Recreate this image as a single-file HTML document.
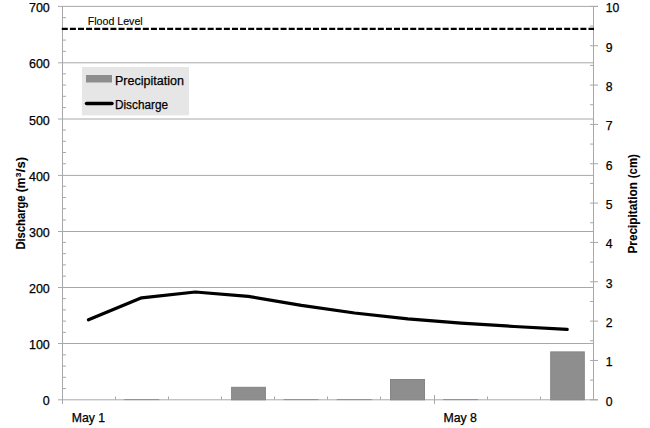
<!DOCTYPE html><html><head><meta charset="utf-8"><style>html,body{margin:0;padding:0;background:#fff;width:650px;height:428px;overflow:hidden}svg{display:block}text{font-family:"Liberation Sans",sans-serif;fill:#000}.t{stroke:#000;stroke-width:0.25}.f{stroke:#000;stroke-width:0.12}</style></head><body>
<svg width="650" height="428" viewBox="0 0 650 428">
<line x1="58" y1="399.8" x2="598" y2="399.8" stroke="#a8a8a8" stroke-width="1"/>
<line x1="58" y1="343.5" x2="593" y2="343.5" stroke="#a8a8a8" stroke-width="1"/>
<line x1="58" y1="287.5" x2="593" y2="287.5" stroke="#a8a8a8" stroke-width="1"/>
<line x1="58" y1="231.5" x2="593" y2="231.5" stroke="#a8a8a8" stroke-width="1"/>
<line x1="58" y1="175.4" x2="593" y2="175.4" stroke="#a8a8a8" stroke-width="1"/>
<line x1="58" y1="119.0" x2="593" y2="119.0" stroke="#a8a8a8" stroke-width="1"/>
<line x1="58" y1="62.8" x2="593" y2="62.8" stroke="#a8a8a8" stroke-width="1"/>
<line x1="58" y1="6.4" x2="598" y2="6.4" stroke="#a8a8a8" stroke-width="1"/>
<line x1="62.5" y1="6" x2="62.5" y2="404" stroke="#a8a8a8" stroke-width="1"/>
<line x1="593.5" y1="6" x2="593.5" y2="400" stroke="#a8a8a8" stroke-width="1"/>
<line x1="62" y1="388.56" x2="66" y2="388.56" stroke="#a8a8a8" stroke-width="1"/>
<line x1="62" y1="377.32" x2="66" y2="377.32" stroke="#a8a8a8" stroke-width="1"/>
<line x1="62" y1="366.08" x2="66" y2="366.08" stroke="#a8a8a8" stroke-width="1"/>
<line x1="62" y1="354.84" x2="66" y2="354.84" stroke="#a8a8a8" stroke-width="1"/>
<line x1="62" y1="332.36" x2="66" y2="332.36" stroke="#a8a8a8" stroke-width="1"/>
<line x1="62" y1="321.12" x2="66" y2="321.12" stroke="#a8a8a8" stroke-width="1"/>
<line x1="62" y1="309.88" x2="66" y2="309.88" stroke="#a8a8a8" stroke-width="1"/>
<line x1="62" y1="298.64" x2="66" y2="298.64" stroke="#a8a8a8" stroke-width="1"/>
<line x1="62" y1="276.16" x2="66" y2="276.16" stroke="#a8a8a8" stroke-width="1"/>
<line x1="62" y1="264.92" x2="66" y2="264.92" stroke="#a8a8a8" stroke-width="1"/>
<line x1="62" y1="253.68" x2="66" y2="253.68" stroke="#a8a8a8" stroke-width="1"/>
<line x1="62" y1="242.44" x2="66" y2="242.44" stroke="#a8a8a8" stroke-width="1"/>
<line x1="62" y1="219.96" x2="66" y2="219.96" stroke="#a8a8a8" stroke-width="1"/>
<line x1="62" y1="208.72" x2="66" y2="208.72" stroke="#a8a8a8" stroke-width="1"/>
<line x1="62" y1="197.48" x2="66" y2="197.48" stroke="#a8a8a8" stroke-width="1"/>
<line x1="62" y1="186.24" x2="66" y2="186.24" stroke="#a8a8a8" stroke-width="1"/>
<line x1="62" y1="163.76" x2="66" y2="163.76" stroke="#a8a8a8" stroke-width="1"/>
<line x1="62" y1="152.52" x2="66" y2="152.52" stroke="#a8a8a8" stroke-width="1"/>
<line x1="62" y1="141.28" x2="66" y2="141.28" stroke="#a8a8a8" stroke-width="1"/>
<line x1="62" y1="130.04" x2="66" y2="130.04" stroke="#a8a8a8" stroke-width="1"/>
<line x1="62" y1="107.56" x2="66" y2="107.56" stroke="#a8a8a8" stroke-width="1"/>
<line x1="62" y1="96.32" x2="66" y2="96.32" stroke="#a8a8a8" stroke-width="1"/>
<line x1="62" y1="85.08" x2="66" y2="85.08" stroke="#a8a8a8" stroke-width="1"/>
<line x1="62" y1="73.84" x2="66" y2="73.84" stroke="#a8a8a8" stroke-width="1"/>
<line x1="62" y1="51.36" x2="66" y2="51.36" stroke="#a8a8a8" stroke-width="1"/>
<line x1="62" y1="40.12" x2="66" y2="40.12" stroke="#a8a8a8" stroke-width="1"/>
<line x1="62" y1="28.88" x2="66" y2="28.88" stroke="#a8a8a8" stroke-width="1"/>
<line x1="62" y1="17.64" x2="66" y2="17.64" stroke="#a8a8a8" stroke-width="1"/>
<line x1="590" y1="399.80" x2="598" y2="399.80" stroke="#a8a8a8" stroke-width="1"/>
<line x1="590" y1="360.46" x2="598" y2="360.46" stroke="#a8a8a8" stroke-width="1"/>
<line x1="590" y1="321.12" x2="598" y2="321.12" stroke="#a8a8a8" stroke-width="1"/>
<line x1="590" y1="281.78" x2="598" y2="281.78" stroke="#a8a8a8" stroke-width="1"/>
<line x1="590" y1="242.44" x2="598" y2="242.44" stroke="#a8a8a8" stroke-width="1"/>
<line x1="590" y1="203.10" x2="598" y2="203.10" stroke="#a8a8a8" stroke-width="1"/>
<line x1="590" y1="163.76" x2="598" y2="163.76" stroke="#a8a8a8" stroke-width="1"/>
<line x1="590" y1="124.42" x2="598" y2="124.42" stroke="#a8a8a8" stroke-width="1"/>
<line x1="590" y1="85.08" x2="598" y2="85.08" stroke="#a8a8a8" stroke-width="1"/>
<line x1="590" y1="45.74" x2="598" y2="45.74" stroke="#a8a8a8" stroke-width="1"/>
<line x1="590" y1="6.40" x2="598" y2="6.40" stroke="#a8a8a8" stroke-width="1"/>
<line x1="590" y1="380.13" x2="593" y2="380.13" stroke="#a8a8a8" stroke-width="1"/>
<line x1="590" y1="340.79" x2="593" y2="340.79" stroke="#a8a8a8" stroke-width="1"/>
<line x1="590" y1="301.45" x2="593" y2="301.45" stroke="#a8a8a8" stroke-width="1"/>
<line x1="590" y1="262.11" x2="593" y2="262.11" stroke="#a8a8a8" stroke-width="1"/>
<line x1="590" y1="222.77" x2="593" y2="222.77" stroke="#a8a8a8" stroke-width="1"/>
<line x1="590" y1="183.43" x2="593" y2="183.43" stroke="#a8a8a8" stroke-width="1"/>
<line x1="590" y1="144.09" x2="593" y2="144.09" stroke="#a8a8a8" stroke-width="1"/>
<line x1="590" y1="104.75" x2="593" y2="104.75" stroke="#a8a8a8" stroke-width="1"/>
<line x1="590" y1="65.41" x2="593" y2="65.41" stroke="#a8a8a8" stroke-width="1"/>
<line x1="590" y1="26.07" x2="593" y2="26.07" stroke="#a8a8a8" stroke-width="1"/>
<line x1="115.5" y1="396.5" x2="115.5" y2="399.5" stroke="#a8a8a8" stroke-width="1"/>
<line x1="168.5" y1="396.5" x2="168.5" y2="399.5" stroke="#a8a8a8" stroke-width="1"/>
<line x1="221.5" y1="396.5" x2="221.5" y2="399.5" stroke="#a8a8a8" stroke-width="1"/>
<line x1="274.5" y1="396.5" x2="274.5" y2="399.5" stroke="#a8a8a8" stroke-width="1"/>
<line x1="327.5" y1="396.5" x2="327.5" y2="399.5" stroke="#a8a8a8" stroke-width="1"/>
<line x1="380.5" y1="396.5" x2="380.5" y2="399.5" stroke="#a8a8a8" stroke-width="1"/>
<line x1="434.5" y1="395" x2="434.5" y2="404" stroke="#a8a8a8" stroke-width="1"/>
<line x1="487.5" y1="396.5" x2="487.5" y2="399.5" stroke="#a8a8a8" stroke-width="1"/>
<line x1="540.5" y1="396.5" x2="540.5" y2="399.5" stroke="#a8a8a8" stroke-width="1"/>
<line x1="124.2" y1="399.6" x2="159.2" y2="399.6" stroke="#909090" stroke-width="1"/>
<line x1="283.6" y1="399.6" x2="318.6" y2="399.6" stroke="#909090" stroke-width="1"/>
<line x1="336.8" y1="399.6" x2="371.8" y2="399.6" stroke="#909090" stroke-width="1"/>
<line x1="443.1" y1="399.6" x2="478.1" y2="399.6" stroke="#909090" stroke-width="1"/>
<rect x="231.6" y="387.3" width="33.8" height="12.5" fill="#8e8e8e" stroke="#858585" stroke-width="1"/>
<rect x="390.5" y="379.5" width="34.0" height="20.3" fill="#8e8e8e" stroke="#858585" stroke-width="1"/>
<rect x="550.7" y="351.9" width="33.6" height="47.9" fill="#8e8e8e" stroke="#858585" stroke-width="1"/>
<line x1="61.8" y1="28.8" x2="594" y2="28.8" stroke="#000" stroke-width="2.3" stroke-dasharray="6.0 2.103"/>
<polyline points="88.5,319.8 141.6,297.8 195.3,292.0 248.2,296.3 301.4,305.3 354.6,313.0 407.8,318.8 461,323.2 514.2,326.5 567.2,329.4" fill="none" stroke="#000" stroke-width="3.25" stroke-linejoin="round" stroke-linecap="round"/>
<rect x="82" y="67" width="107" height="48.4" fill="#e6e6e6"/>
<rect x="86" y="75" width="26" height="7.5" fill="#8e8e8e"/>
<line x1="86.5" y1="103.4" x2="112" y2="103.4" stroke="#000" stroke-width="3.5" stroke-linecap="round"/>
<text class="t" x="115" y="84.6" font-size="12.5" textLength="69" lengthAdjust="spacingAndGlyphs">Precipitation</text>
<text class="t" x="115" y="109" font-size="12.5" textLength="53" lengthAdjust="spacingAndGlyphs">Discharge</text>
<text class="f" x="87.7" y="24.6" font-size="10.4" textLength="55" lengthAdjust="spacingAndGlyphs">Flood Level</text>
<text class="t" x="49.8" y="405.4" font-size="12.5" text-anchor="end">0</text>
<text class="t" x="49.8" y="349.1" font-size="12.5" text-anchor="end">100</text>
<text class="t" x="49.8" y="293.1" font-size="12.5" text-anchor="end">200</text>
<text class="t" x="49.8" y="237.1" font-size="12.5" text-anchor="end">300</text>
<text class="t" x="49.8" y="181.0" font-size="12.5" text-anchor="end">400</text>
<text class="t" x="49.8" y="124.6" font-size="12.5" text-anchor="end">500</text>
<text class="t" x="49.8" y="68.4" font-size="12.5" text-anchor="end">600</text>
<text class="t" x="49.8" y="12.0" font-size="12.5" text-anchor="end">700</text>
<text class="t" x="605.8" y="405.7" font-size="12.2">0</text>
<text class="t" x="605.8" y="366.4" font-size="12.2">1</text>
<text class="t" x="605.8" y="327.0" font-size="12.2">2</text>
<text class="t" x="605.8" y="287.7" font-size="12.2">3</text>
<text class="t" x="605.8" y="248.3" font-size="12.2">4</text>
<text class="t" x="605.8" y="209.0" font-size="12.2">5</text>
<text class="t" x="605.8" y="169.7" font-size="12.2">6</text>
<text class="t" x="605.8" y="130.3" font-size="12.2">7</text>
<text class="t" x="605.8" y="91.0" font-size="12.2">8</text>
<text class="t" x="605.8" y="51.6" font-size="12.2">9</text>
<text class="t" x="605.8" y="12.3" font-size="12.2">10</text>
<text class="t" x="71.8" y="422" font-size="11.9" textLength="33.4" lengthAdjust="spacingAndGlyphs">May 1</text>
<text class="t" x="443.4" y="422" font-size="11.9" textLength="33.6" lengthAdjust="spacingAndGlyphs">May 8</text>
<text id="lt1" class="f" transform="translate(24.9,249.6) rotate(-90)" font-size="11.9" font-weight="bold" textLength="54.2" lengthAdjust="spacingAndGlyphs">Discharge</text>
<text id="lt2" class="f" transform="translate(24.9,192.2) rotate(-90)" font-size="11.9" font-weight="bold">(m</text>
<text id="lt3" class="f" transform="translate(20.9,177.0) rotate(-90)" font-size="7.8" font-weight="bold">3</text>
<text id="lt4" class="f" transform="translate(24.9,172.2) rotate(-90)" font-size="11.9" font-weight="bold" textLength="15.2" lengthAdjust="spacingAndGlyphs">/s)</text>
<text id="rt1" class="f" transform="translate(637.1,253.5) rotate(-90)" font-size="11.9" font-weight="bold" textLength="71.5" lengthAdjust="spacingAndGlyphs">Precipitation</text>
<text id="rt2" class="f" transform="translate(637.1,178.2) rotate(-90)" font-size="11.9" font-weight="bold" textLength="24" lengthAdjust="spacingAndGlyphs">(cm)</text>
</svg></body></html>
